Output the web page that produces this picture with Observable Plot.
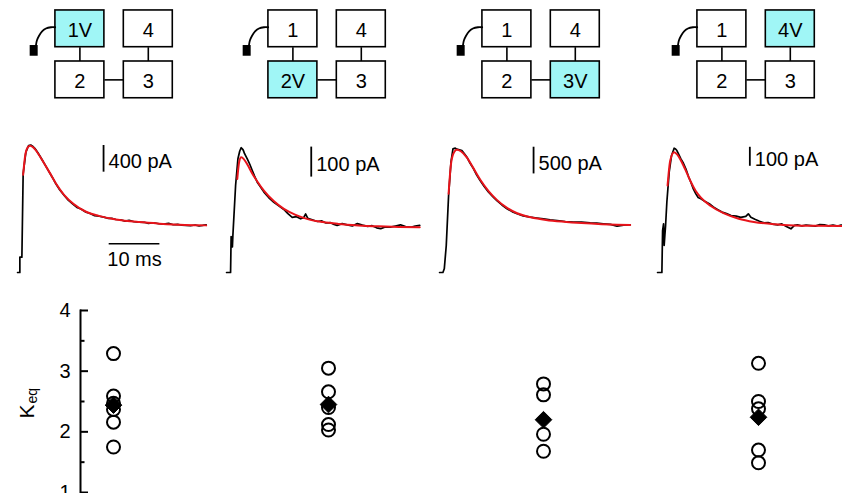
<!DOCTYPE html>
<html><head><meta charset="utf-8">
<script src="https://cdn.jsdelivr.net/npm/d3@7"></script>
<script src="https://cdn.jsdelivr.net/npm/@observablehq/plot@0.6"></script>
<style>
html,body{margin:0;padding:0;background:#fff;}
#fig{position:relative;width:842px;height:493px;overflow:hidden;background:#fff;}
#fig svg{position:absolute;overflow:visible;max-width:none;}
</style></head><body><div id="fig"></div>
<script>
// ---------- data ----------
const boxes = [{id:"1",col:0,row:0},{id:"4",col:1,row:0},{id:"2",col:0,row:1},{id:"3",col:1,row:1}];
const links = [["1","2"],["4","3"],["2","3"]];
const stimulated = ["1","2","3","4"];
const electrodeWire = [[-0.361,-0.031],[-0.424,-0.031],[-0.497,-0.006],[-0.556,0.053],[-0.599,0.141],[-0.629,0.229],[-0.643,0.327]];
const electrodeTip = [[-0.727,0.327,-0.610,0.537]];

const scaleBarsPA = [400, 100, 500, 100];
const timeBarMs = 10;

const black1 = [[0,0],[0.45,0],[0.45,230],[0.85,230],[1.1,1478],[1.64,1802],[2.17,1903],[2.6,1910],[2.96,1892],[3.4,1860],[3.94,1802],[4.4,1745],[4.93,1678],[5.6,1590],[6.25,1503],[6.9,1420],[7.55,1329],[8.3,1240],[9.2,1154],[10,1085],[10.85,1029],[11.7,975],[12.5,950],[13.5,903],[14.3,885],[15.2,850],[16.1,843],[17,830],[17.8,812],[18.6,810],[19.4,794],[20.3,790],[21.2,770],[22,780],[23,760],[24,754],[25,752],[25.8,735],[26.8,745],[27.9,730],[28.8,725],[29.8,735],[30.7,715],[31.6,720],[32.4,708],[33.2,704],[34.1,700],[35,712],[35.8,698],[36.5,705],[37.2,715]];
const red1 = [[1.1,1464],[1.5,1750],[2.0,1875],[2.5,1900],[3.0,1880],[3.5,1840],[4.2,1765],[5.2,1640],[6.3,1500],[7.6,1330],[9.2,1160],[11,1030],[13.5,910],[16,848],[19.4,795],[24,755],[28,732],[33,712],[37.2,706]];

const black2 = [[0,0],[0.79,0],[0.9,120],[1.05,110],[1.15,85],[1.25,125],[1.78,290],[2.24,379],[2.6,405],[2.89,416],[3.1,412],[3.29,408],[3.55,396],[4.08,379],[4.6,360],[5.07,340],[5.5,322],[6.05,301],[6.7,285],[7.37,268],[8.3,250],[9.33,234],[10.3,222],[11.3,210],[12.1,196],[12.95,184],[13.8,186],[14.6,179],[15.2,183],[15.6,195],[16.0,181],[16.9,176],[17.9,170],[18.8,172],[19.6,165],[20.5,166],[21.2,160],[21.8,157],[22.8,163],[23.8,159],[24.8,155],[25.8,163],[26.8,158],[27.8,154],[28.7,156],[29.6,149],[30.4,146],[31.3,152],[32.3,151],[33.3,155],[34.3,159],[35.3,153],[36.3,151],[37.2,155],[38.1,157]];
const red2 = [[2.11,312],[2.5,370],[2.89,384],[3.4,378],[4.1,360],[5.0,332],[6.0,305],[7.4,272],[9.3,238],[11.3,212],[13.5,193],[16,178],[19,168],[22,162],[26,157],[30,154],[34,152],[38.1,151]];

const black3 = [[0,0],[0.66,0],[0.93,69],[1.32,506],[1.78,1442],[2.25,2066],[2.64,2316],[3.1,2328],[3.4,2310],[3.75,2303],[4.4,2285],[4.9,2225],[5.4,2159],[6.0,2050],[6.7,1942],[7.3,1830],[8.0,1723],[8.8,1610],[9.67,1504],[10.5,1420],[11.3,1348],[12.3,1265],[13.3,1193],[14.3,1140],[15.3,1099],[16.5,1060],[17.9,1036],[19.2,1020],[20.5,1006],[21.8,985],[23.2,974],[24.8,955],[26.4,942],[28,945],[29.7,931],[31,925],[32.3,912],[33.7,900],[35,867],[36.3,885],[37.6,893]];
const red3 = [[1.78,1474],[2.2,1990],[2.7,2220],[3.4,2300],[4.2,2270],[5.4,2150],[6.7,1950],[8,1740],[9.7,1520],[11.3,1360],[13.3,1210],[15.3,1110],[18,1035],[21,985],[24.5,950],[28,925],[32,905],[35,895],[37.6,890]];

const black4 = [[0,0],[0.85,0],[0.99,221],[1.18,256],[1.3,142],[1.45,200],[1.58,247],[1.83,370],[2.29,528],[2.76,616],[3.27,654],[3.55,650],[3.81,642],[4.2,620],[4.6,598],[5.1,575],[5.58,546],[6.1,505],[6.57,475],[7.05,440],[7.55,414],[8.0,395],[8.54,388],[9.3,375],[10.2,362],[11.0,345],[11.8,332],[12.7,318],[13.6,310],[14.5,300],[15.5,297],[16.4,290],[17.4,295],[17.9,309],[18.4,291],[19.2,280],[20.1,270],[21.0,261],[21.8,263],[22.7,255],[23.7,251],[24.5,256],[25.4,242],[26.3,230],[27.0,248],[27.6,251],[28.5,245],[29.3,250],[30.2,247],[31.1,244],[32.0,252],[32.9,251],[33.8,245],[34.6,250],[35.5,244],[36.2,250],[36.8,247]];
const red4 = [[1.97,458],[2.5,590],[3.27,633],[3.9,620],[4.6,590],[5.5,540],[6.5,480],[7.5,430],[8.5,395],[10.5,350],[13,312],[16,283],[19,266],[23,254],[27,248],[31,246],[36.8,245]];

const groups = ["1","2","3","4"];
const keq1 = [3.29, 2.59, 2.47, 2.37, 2.16, 1.75];
const keq2 = [3.05, 2.66, 2.40, 2.12, 2.03];
const keq3 = [2.79, 2.61, 1.96, 1.68];
const keq4 = [3.13, 2.50, 2.38, 1.70, 1.49];
const keqMean = [2.44, 2.45, 2.20, 2.24];
const yTicks = [1, 2, 3, 4];
const yMinorTicks = [1.5, 2.5, 3.5];

// ---------- layout / style ----------
const FONT = "'Liberation Sans', Arial, Helvetica, sans-serif";
const FS = 20;
const CYAN = "#a0f6f6";
const RED = "#e8141b";
const fig = document.getElementById("fig");
function place(svg, left, top) { svg.style.left = left + "px"; svg.style.top = top + "px"; fig.appendChild(svg); }

// ---------- schematics ----------
const HW = 0.358, HH = 0.36;
const byId = Object.fromEntries(boxes.map(b => [b.id, b]));
const linkSegs = links.map(([a, b]) => {
  const A = byId[a], B = byId[b];
  return A.col === B.col
    ? {x1: A.col, x2: B.col, y1: A.row + HH, y2: B.row - HH}
    : {x1: A.col + HW, x2: B.col - HW, y1: A.row, y2: B.row};
});
const schemLeft = [10.6, 224.1, 438.1, 652.6];
stimulated.forEach((stim, i) => {
  const svg = Plot.plot({
    width: 200, height: 110, margin: 0,
    style: {fontFamily: FONT, background: "transparent"},
    x: {domain: [-1, 1.924], axis: null},
    y: {domain: [-0.555, 1.6], reverse: true, axis: null},
    marks: [
      Plot.link(linkSegs, {x1: "x1", y1: "y1", x2: "x2", y2: "y2", stroke: "black", strokeWidth: 1.6}),
      Plot.rect(boxes, {x1: d => d.col - HW, x2: d => d.col + HW, y1: d => d.row - HH, y2: d => d.row + HH,
        fill: d => d.id === stim ? CYAN : "white", stroke: "black", strokeWidth: 1.6}),
      Plot.text(boxes, {x: "col", y: "row", text: d => d.id + (d.id === stim ? "V" : ""), fontSize: FS, dy: 2, fill: "black"}),
      Plot.line(electrodeWire, {x: d => d[0], y: d => d[1], curve: "catmull-rom", stroke: "black", strokeWidth: 1.8}),
      Plot.rect(electrodeTip, {x1: d => d[0], y1: d => d[1], x2: d => d[2], y2: d => d[3], fill: "black"})
    ]
  });
  place(svg, schemLeft[i], 0);
});

// ---------- traces ----------
const traces = [[black1, red1], [black2, red2], [black3, red3], [black4, red4]];
const pxPerPA = [26.7 / 400, 30 / 100, 26.7 / 500, 19 / 100];
const traceLeft = [11.6, 220.9, 434.2, 651.6];
const barT = [16.96, 16.7, 18.54, 18.2];
const barTop = [1903, 418, 2346, 659];
traces.forEach(([blk, red], i) => {
  const k = pxPerPA[i];
  const marks = [
    Plot.line(blk, {x: d => d[0], y: d => d[1], stroke: "black", strokeWidth: 1.7}),
    Plot.line(red, {x: d => d[0], y: d => d[1], stroke: RED, strokeWidth: 2, curve: "monotone-x"}),
    Plot.ruleX([scaleBarsPA[i]], {x: barT[i], y1: d => barTop[i] - d, y2: barTop[i], stroke: "black", strokeWidth: 1.8}),
    Plot.text([scaleBarsPA[i]], {x: barT[i], y: d => barTop[i] - d / 2, text: d => `${d} pA`, textAnchor: "start", dx: 5, dy: 2.8, fontSize: FS, fill: "black"})
  ];
  if (i === 0) {
    marks.push(
      Plot.ruleY([timeBarMs], {y: 430, x1: 18.07, x2: d => 18.07 + d, stroke: "black", strokeWidth: 1.6}),
      Plot.text([timeBarMs], {x: d => 18.07 + d / 2, y: 430, text: d => `${d} ms`, dy: 15.3, fontSize: FS, fill: "black"})
    );
  }
  const svg = Plot.plot({
    width: 215, height: 150, margin: 0,
    style: {fontFamily: FONT, background: "transparent"},
    x: {domain: [-1, -1 + 215 / 5.07], axis: null},
    y: {domain: [-8 / k, 142 / k], axis: null},
    marks
  });
  place(svg, traceLeft[i], 130);
});

// ---------- Keq scatter ----------
const keqAll = [keq1, keq2, keq3, keq4];
const pts = keqAll.flatMap((arr, gi) => arr.map(v => ({group: groups[gi], k: v})));
const means = keqMean.map((v, gi) => ({group: groups[gi], k: v}));
const W = 842, ML = 80;
const scatter = Plot.plot({
  width: W, height: 203, marginLeft: ML, marginRight: 0, marginTop: 20, marginBottom: 1,
  style: {fontFamily: FONT, background: "transparent"},
  x: {type: "point", domain: groups, range: [112, 758], padding: 0, axis: null},
  y: {domain: [1, 4]},
  marks: [
    Plot.axisY({ticks: yTicks, tickSize: 0, tickPadding: 10, fontSize: FS, label: null, tickFormat: d => String(d), color: "black"}),
    Plot.frame({anchor: "left", stroke: "black", strokeWidth: 2}),
    Plot.tickY(yTicks, {y: d => d, insetRight: W - ML - 8, stroke: "black", strokeWidth: 2}),
    Plot.tickY(yMinorTicks, {y: d => d, insetRight: W - ML - 4.5, stroke: "black", strokeWidth: 2}),
    Plot.text(["K"], {frameAnchor: "left", text: d => d, rotate: -90, textAnchor: "start", lineAnchor: "bottom", dx: -47, dy: 17, fontSize: 21, fill: "black"}),
    Plot.text(["eq"], {frameAnchor: "left", text: d => d, rotate: -90, textAnchor: "start", lineAnchor: "bottom", dx: -44, dy: 2, fontSize: 14, fill: "black"}),
    Plot.dot(pts, {x: "group", y: "k", r: 6.5, stroke: "black", strokeWidth: 2, fill: "none"}),
    Plot.dot(means, {x: "group", y: "k", symbol: "diamond2", r: 7.5, fill: "black", stroke: "black", strokeWidth: 1})
  ]
});
place(scatter, 0, 290);
</script></body></html>
